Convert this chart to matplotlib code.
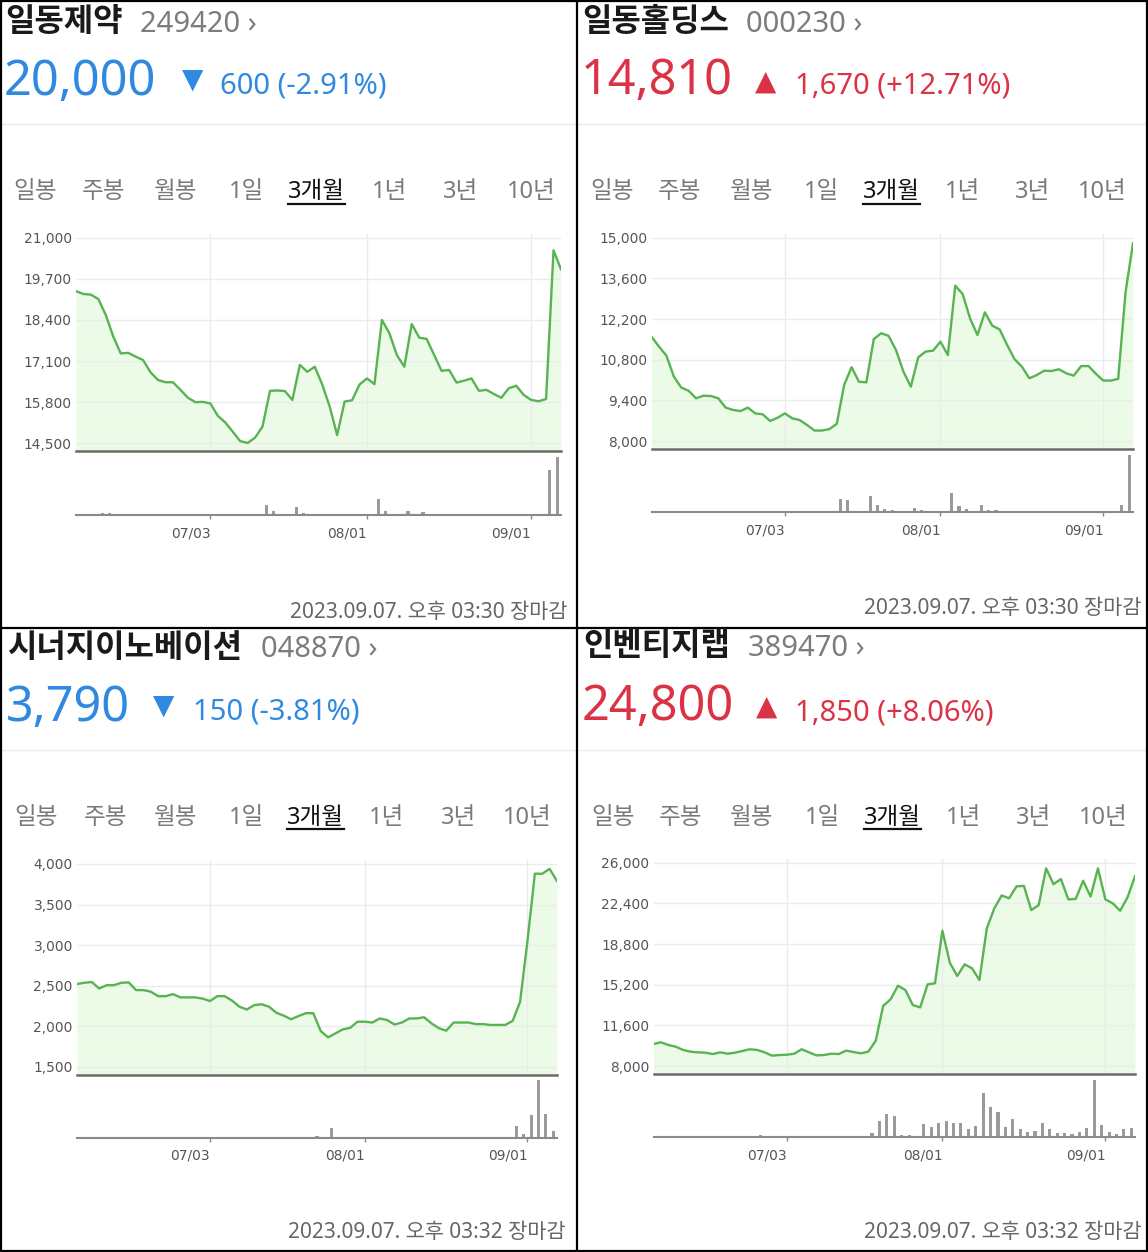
import matplotlib
matplotlib.use('Agg')
import matplotlib.pyplot as plt
from matplotlib.lines import Line2D
import numpy as np
import pandas as pd

# ---------------- data ----------------
days = [d for d in pd.bdate_range('2023-06-07', '2023-09-07') if d != pd.Timestamp('2023-08-15')]
tab_labels = ['일봉', '주봉', '월봉', '1일', '3개월', '1년', '3년', '10년']

names = ['일동제약', '일동홀딩스', '시너지이노베이션', '인벤티지랩']
codes = ['249420', '000230', '048870', '389470']
last_prices = [20000, 14810, 3790, 24800]
changes = [-600, 1670, -150, 1850]
change_pcts = [-2.91, 12.71, -3.81, 8.06]
close_times = ['03:30', '03:30', '03:32', '03:32']

yticks1 = [14500, 15800, 17100, 18400, 19700, 21000]
yticks2 = [8000, 9400, 10800, 12200, 13600, 15000]
yticks3 = [1500, 2000, 2500, 3000, 3500, 4000]
yticks4 = [8000, 11600, 15200, 18800, 22400, 26000]

price1 = [19310, 19220, 19200, 19060, 18550, 17870, 17340, 17360, 17240, 17130,
          16740, 16500, 16430, 16430, 16190, 15940, 15800, 15810, 15760, 15370,
          15160, 14870, 14570, 14510, 14680, 15030, 16160, 16170, 16150, 15870,
          16980, 16760, 16920, 16360, 15660, 14760, 15820, 15860, 16360, 16550,
          16370, 18400, 17980, 17290, 16920, 18270, 17840, 17800, 17290, 16790,
          16820, 16420, 16480, 16550, 16160, 16190, 16060, 15940, 16240, 16320,
          16030, 15870, 15830, 15900, 20600, 20000]
price2 = [11590, 11250, 10940, 10220, 9840, 9730, 9470, 9560, 9550, 9470,
          9150, 9070, 9030, 9150, 8950, 8920, 8690, 8800, 8950, 8780,
          8720, 8550, 8360, 8360, 8410, 8590, 9930, 10540, 10040, 10020,
          11510, 11710, 11620, 11130, 10390, 9870, 10880, 11080, 11110, 11420,
          10960, 13350, 13060, 12220, 11650, 12430, 11970, 11840, 11310, 10820,
          10560, 10160, 10270, 10420, 10410, 10470, 10330, 10250, 10580, 10580,
          10310, 10080, 10080, 10140, 13140, 14810]
price3 = [2520, 2535, 2545, 2465, 2505, 2505, 2535, 2540, 2445, 2445,
          2425, 2370, 2370, 2395, 2355, 2355, 2355, 2340, 2310, 2370,
          2370, 2315, 2240, 2205, 2260, 2270, 2240, 2165, 2130, 2085,
          2125, 2160, 2160, 1940, 1862, 1911, 1960, 1980, 2055, 2055,
          2045, 2095, 2075, 2020, 2045, 2095, 2095, 2110, 2035, 1975,
          1944, 2045, 2045, 2045, 2025, 2025, 2015, 2015, 2015, 2065,
          2300, 3050, 3880, 3880, 3940, 3790]
price4 = [9950, 10100, 9860, 9710, 9420, 9270, 9210, 9180, 9060, 9210,
          9090, 9180, 9330, 9480, 9420, 9210, 8920, 8970, 9000, 9090,
          9480, 9210, 8940, 8970, 9090, 9060, 9360, 9240, 9120, 9270,
          10240, 13310, 13900, 15110, 14730, 13400, 13190, 15230, 15320, 19980,
          17150, 15970, 17000, 16650, 15610, 20200, 21950, 23100, 22850, 23900,
          23950, 21800, 22250, 25500, 24100, 24550, 22750, 22800, 24400, 23000,
          25500, 22750, 22400, 21750, 22950, 24800]

vol1 = [3, 3, 3, 3, 6, 6, 3, 3, 3, 3,
        3, 3, 3, 3, 3, 3, 3, 3, 3, 3,
        3, 3, 3, 3, 3, 3, 32, 12, 3, 3,
        24, 6, 3, 4, 3, 3, 3, 3, 3, 3,
        3, 48, 12, 4, 4, 14, 5, 9, 3, 3,
        3, 3, 3, 3, 3, 3, 3, 3, 3, 3,
        3, 3, 3, 3, 135, 173]
vol2 = [1, 3, 3, 4, 3, 3, 3, 3, 1, 1,
        1, 3, 1, 1, 1, 1, 1, 3, 1, 1,
        1, 1, 1, 1, 1, 3, 40, 37, 4, 3,
        48, 22, 10, 7, 4, 4, 12, 7, 4, 4,
        3, 58, 20, 10, 4, 22, 7, 7, 3, 3,
        3, 3, 3, 3, 3, 3, 3, 3, 3, 3,
        3, 3, 3, 3, 22, 172]
vol3 = [1, 3, 1, 1, 3, 3, 3, 3, 3, 3,
        1, 1, 1, 3, 1, 3, 1, 1, 1, 3,
        1, 1, 1, 3, 1, 1, 1, 1, 3, 3,
        3, 3, 3, 4, 3, 28, 3, 3, 3, 3,
        3, 3, 3, 1, 1, 1, 1, 1, 3, 3,
        3, 1, 1, 1, 1, 1, 1, 1, 1, 1,
        35, 10, 68, 173, 71, 20]
vol4 = [0, 0, 0, 0, 0, 0, 0, 0, 0, 0,
        0, 0, 0, 0, 0, 7, 0, 0, 0, 0,
        2, 0, 0, 0, 0, 0, 0, 0, 0, 0,
        12, 49, 69, 64, 7, 7, 4, 39, 32, 44,
        49, 42, 42, 24, 34, 132, 92, 77, 32, 54,
        24, 17, 19, 42, 24, 12, 14, 9, 15, 29,
        172, 37, 15, 10, 24, 29]

prices = [price1, price2, price3, price4]
vols = [vol1, vol2, vol3, vol4]
yticks_all = [yticks1, yticks2, yticks3, yticks4]

# ---------------- layout (pixels) ----------------
W, H = 1148, 1252
LAT = ['Noto Sans', 'Noto Sans CJK KR', 'DejaVu Sans']
KR = ['Noto Sans CJK KR', 'DejaVu Sans']
BLUE = '#2f89e0'
RED = '#dc3246'

layout = [
    dict(title=(5, 21.5), code=(140, 31.5), price=(4, 95), tri=(193, 79.5), chg=(220, 94),
         sep=(2, 576, 123.5), tabs_x=[13.5, 82, 154, 229, 288, 372, 442.5, 507], tabs_y=192.5,
         ul_y=204, ax_x=(76, 561), tick_px=(237.7, 443.3), base=451.3, top=234,
         vol=(457, 515.3), foot=(567, 613)),
    dict(title=(582, 21.5), code=(746, 31.5), price=(581, 94.5), tri=(766, 82), chg=(795, 93.5),
         sep=(578, 1146, 123.5), tabs_x=[590, 658, 730, 804, 863, 945, 1015, 1078], tabs_y=192.5,
         ul_y=204, ax_x=(651.6, 1133), tick_px=(237.7, 441), base=449, top=234,
         vol=(455, 512.3), foot=(1141, 608)),
    dict(title=(7, 648), code=(261, 657), price=(6, 721), tri=(164, 705.5), chg=(193, 720),
         sep=(2, 576, 750), tabs_x=[14.5, 83.5, 154, 229, 287, 369, 440.5, 502.5], tabs_y=818.5,
         ul_y=829, ax_x=(77, 557), tick_px=(864, 1066.7), base=1075, top=860,
         vol=(1080, 1137.7), foot=(566, 1233)),
    dict(title=(583, 646.5), code=(748, 656), price=(581.5, 720), tri=(767, 707), chg=(795, 720.5),
         sep=(579, 1146, 750), tabs_x=[591, 659, 730, 805, 864, 946, 1016, 1079], tabs_y=818.5,
         ul_y=829, ax_x=(653.5, 1135), tick_px=(862.7, 1066), base=1074, top=859,
         vol=(1080, 1137.3), foot=(1141, 1233)),
]

fig = plt.figure(figsize=(W / 100, H / 100), dpi=100)
fig.patch.set_facecolor('white')
renderer = fig.canvas.get_renderer()


def T(x, y, s, **kw):
    return fig.text(x / W, 1 - y / H, s, **kw)


def hline(x0, x1, y, **kw):
    fig.add_artist(Line2D([x0 / W, x1 / W], [1 - y / H, 1 - y / H], transform=fig.transFigure, **kw))


def vline(x, y0, y1, **kw):
    fig.add_artist(Line2D([x / W, x / W], [1 - y0 / H, 1 - y1 / H], transform=fig.transFigure, **kw))


n = len(days)
xs = np.arange(n)
tick_idx = [i for i in range(1, n) if days[i].month != days[i - 1].month]
month_labels = [days[i].strftime('%m/%d') for i in tick_idx]

for i in range(4):
    L = layout[i]
    up = changes[i] > 0
    col = RED if up else BLUE

    # header
    T(L['title'][0], L['title'][1], names[i], family=KR, fontsize=23, fontweight='bold',
      color='#1a1a1a', va='center', ha='left')
    T(L['code'][0], L['code'][1], codes[i] + ' \u203a', family=LAT, fontsize=21, color='#7c7c7c',
      va='baseline', ha='left')
    T(L['price'][0], L['price'][1], f"{last_prices[i]:,}", family=LAT, fontsize=35, color=col,
      va='baseline', ha='left')
    T(L['tri'][0], L['tri'][1], '\u25b2' if up else '\u25bc', family='DejaVu Sans', fontsize=20,
      color=col, va='center', ha='center')
    T(L['chg'][0], L['chg'][1], f"{abs(changes[i]):,} ({change_pcts[i]:+.2f}%)", family=LAT,
      fontsize=21, color=col, va='baseline', ha='left')
    hline(L['sep'][0], L['sep'][1], L['sep'][2], color='#ebebeb', lw=1)

    # tabs
    for tx, lab in zip(L['tabs_x'], tab_labels):
        active = lab == '3개월'
        t = T(tx, L['tabs_y'], lab, family=LAT, fontsize=17,
              color='#111111' if active else '#7a7a7a', va='center', ha='left')
        if active:
            bb = t.get_window_extent(renderer)
            hline(bb.x0, bb.x1, L['ul_y'], color='#111111', lw=1.6)

    # footer
    T(L['foot'][0], L['foot'][1], f"2023.09.07. 오후 {close_times[i]} 장마감", family=LAT,
      fontsize=15, color='#666666', va='center', ha='right')

    # price axes
    x0, x1 = L['ax_x']
    yt = yticks_all[i]
    tp_top, tp_bot = L['tick_px']
    scale = (yt[-1] - yt[0]) / (tp_bot - tp_top)
    ylo = yt[0] - (L['base'] - tp_bot) * scale
    yhi = yt[-1] + (tp_top - L['top']) * scale
    ax = fig.add_axes([x0 / W, 1 - L['base'] / H, (x1 - x0) / W, (L['base'] - L['top']) / H])
    ax.set_facecolor('none')
    ax.fill_between(xs, prices[i], ylo, color='#ecfbe7', lw=0, zorder=1)
    ax.plot(xs, prices[i], color='#58b352', lw=1.7, zorder=3, solid_joinstyle='round')
    ax.set_xlim(0, n - 1)
    ax.set_ylim(ylo, yhi)
    ax.set_yticks(yt)
    ax.set_yticklabels([f"{v:,}" for v in yt])
    ax.set_xticks(tick_idx)
    ax.set_xticklabels([])
    ax.tick_params(axis='x', length=0)
    ax.tick_params(axis='y', length=0, pad=3, labelsize=9.9, labelcolor='#555555')
    ax.set_axisbelow(False)
    ax.grid(True, color='#ebebeb', lw=1)
    for s in ['top', 'left', 'right']:
        ax.spines[s].set_visible(False)
    ax.spines['bottom'].set_color('#6a6a6a')
    ax.spines['bottom'].set_linewidth(1.8)
    ax.spines['bottom'].set_zorder(4)

    # volume axes
    vt, vb = L['vol']
    axv = fig.add_axes([x0 / W, 1 - vb / H, (x1 - x0) / W, (vb - vt) / H])
    axv.set_facecolor('none')
    axv.bar(xs - 0.5, vols[i], width=0.42, color='#9a9a9a', lw=0)
    axv.set_xlim(0, n - 1)
    axv.set_ylim(0, max(vols[i]))
    axv.set_yticks([])
    axv.set_xticks(tick_idx)
    axv.set_xticklabels(month_labels, ha='right')
    axv.tick_params(axis='x', length=3, width=1, color='#888888', pad=5, labelsize=9.9,
                    labelcolor='#555555')
    for s in ['top', 'left', 'right']:
        axv.spines[s].set_visible(False)
    axv.spines['bottom'].set_color('#8a8a8a')
    axv.spines['bottom'].set_linewidth(1.5)

# panel frames
k = dict(color='black', lw=1.6)
hline(0, W, 0.8, **k)
hline(0, W, H - 0.8, **k)
vline(0.8, 0, H, **k)
vline(W - 0.8, 0, H, **k)
vline(577, 0, H, **k)
hline(0, W, 627.5, **k)

fig.savefig('out.png', dpi=100, facecolor='white')
